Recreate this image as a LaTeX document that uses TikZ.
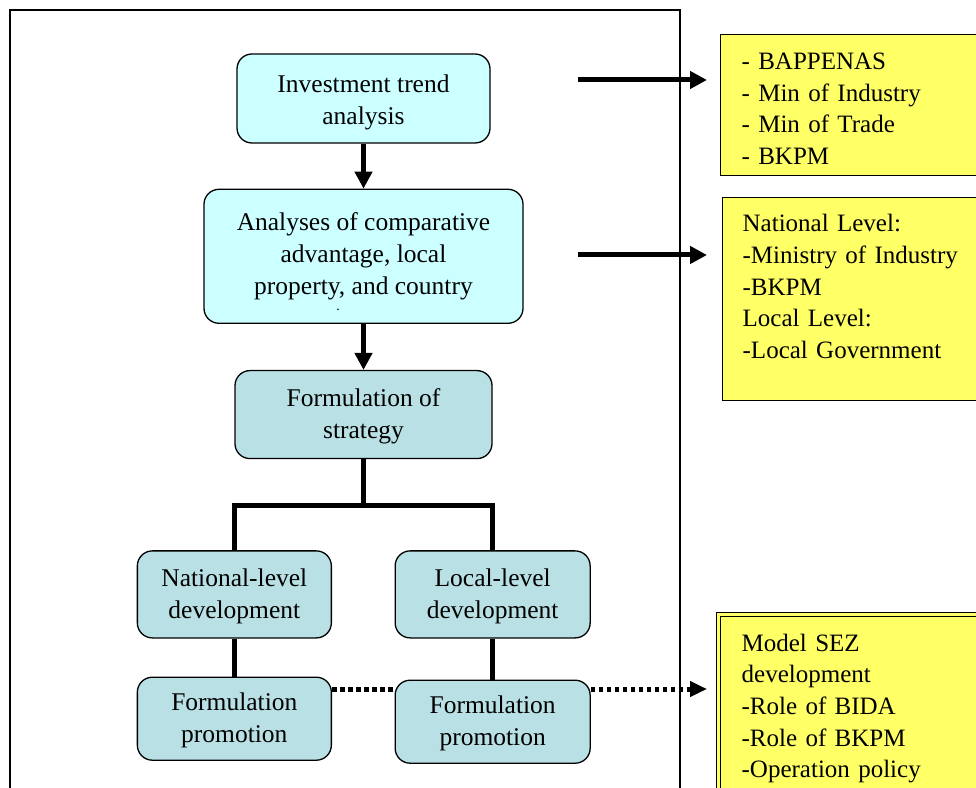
\documentclass[tikz,border=0pt]{standalone}
\usepackage{fontspec}
\setmainfont{Liberation Serif}
\usetikzlibrary{arrows.meta,calc,positioning}
\definecolor{paleCyan}{HTML}{CCFFFF}
\definecolor{paleTeal}{HTML}{B9E0E4}
\definecolor{noteYellow}{HTML}{FFFF66}
\tikzset{
    stage/.style={draw, rounded corners=15pt, line width=1.3pt, align=center,
        inner sep=0pt, text depth=2pt, font=\fontsize{25.5}{32}\selectfont},
    early/.style={stage, fill=paleCyan},
    later/.style={stage, fill=paleTeal},
    note/.style={draw, line width=1.3pt, fill=noteYellow, align=left, anchor=north west,
        text width=300pt, inner xsep=21pt, text height=24pt, font=\fontsize{25}{31.7}\selectfont},
    link/.style={line width=5pt, line join=miter},
    flow/.style={link, -{Triangle[length=17pt,width=17pt]}},
    dots/.style={line width=5pt, dash pattern=on 4.5pt off 3.5pt}
}

\begin{document}
\begin{tikzpicture}[x=1pt, y=1pt]
\useasboundingbox (0,0) rectangle (976,787);
\clip (0,0) rectangle (976,787);

% Frame
\draw[line width=2pt] (10,-20) rectangle (680,777);

% Nodes
\node[early, minimum width=253pt, minimum height=89pt, text height=54pt] (trend) at (363.5,688.5)
    {Investment trend\\analysis};
\node[early, minimum width=319pt, minimum height=134pt, text depth=5.5pt, below=45pt of trend] (advantage)
    {Analyses of comparative\\advantage, local\\property, and country};
\node[inner sep=0pt, font=\fontsize{14}{16}\selectfont] (cutoff) at (338,477) {.};
\node[later, minimum width=257pt, minimum height=88pt, below=46pt of advantage] (strategy)
    {Formulation of\\strategy};
\node[later, minimum width=194pt, minimum height=87pt, below=91pt of strategy.south west] (national)
    {National-level\\development};
\node[later, minimum width=195pt, minimum height=87pt, below=91pt of strategy.south east] (regional)
    {Local-level\\development};
\node[later, minimum width=194pt, minimum height=83pt, below=38pt of national] (natpromo)
    {Formulation\\promotion};
\node[later, minimum width=195pt, minimum height=83pt, below=41pt of regional] (locpromo)
    {Formulation\\promotion};

\node[note, minimum height=141pt] (agencies) at (720,753)
    {- BAPPENAS\\- Min of Industry\\- Min of Trade\\- BKPM};
\node[note, minimum height=203pt, inner xsep=20pt] (levels) at (722,590)
    {National Level:\\-Ministry of Industry\\-BKPM\\Local Level:\\-Local Government\\\mbox{}};
\node[note, minimum height=181pt, inner xsep=23pt, double=noteYellow, double distance=2.5pt] (model) at (718,173)
    {Model SEZ\\development\\-Role of BIDA\\-Role of BKPM\\-Operation policy};

% Paths
\coordinate (feedA) at (578,707);
\coordinate (feedB) at (578,532);
\coordinate (dotrow) at (0,98);

\draw[flow] (trend) -- (advantage);
\draw[flow] (advantage) -- (strategy);
\draw[link] (strategy.south) -- ++(0,-46) -| (national.north);
\draw[link] (strategy.south) -- ++(0,-46) -| (regional.north);
\draw[link] (national) -- (natpromo);
\draw[link] (regional) -- (locpromo);

\draw[flow, shorten >=13pt] (feedA) -- (agencies.west |- feedA);
\draw[flow, shorten >=15pt] (feedB) -- (levels.west |- feedB);

\draw[dots] (natpromo.east |- dotrow) -- (locpromo.west |- dotrow);
\draw[dots, -{Triangle[length=17pt,width=15pt]}, shorten >=11pt] (locpromo.east |- dotrow) -- (model.west |- dotrow);

\end{tikzpicture}
\end{document}
